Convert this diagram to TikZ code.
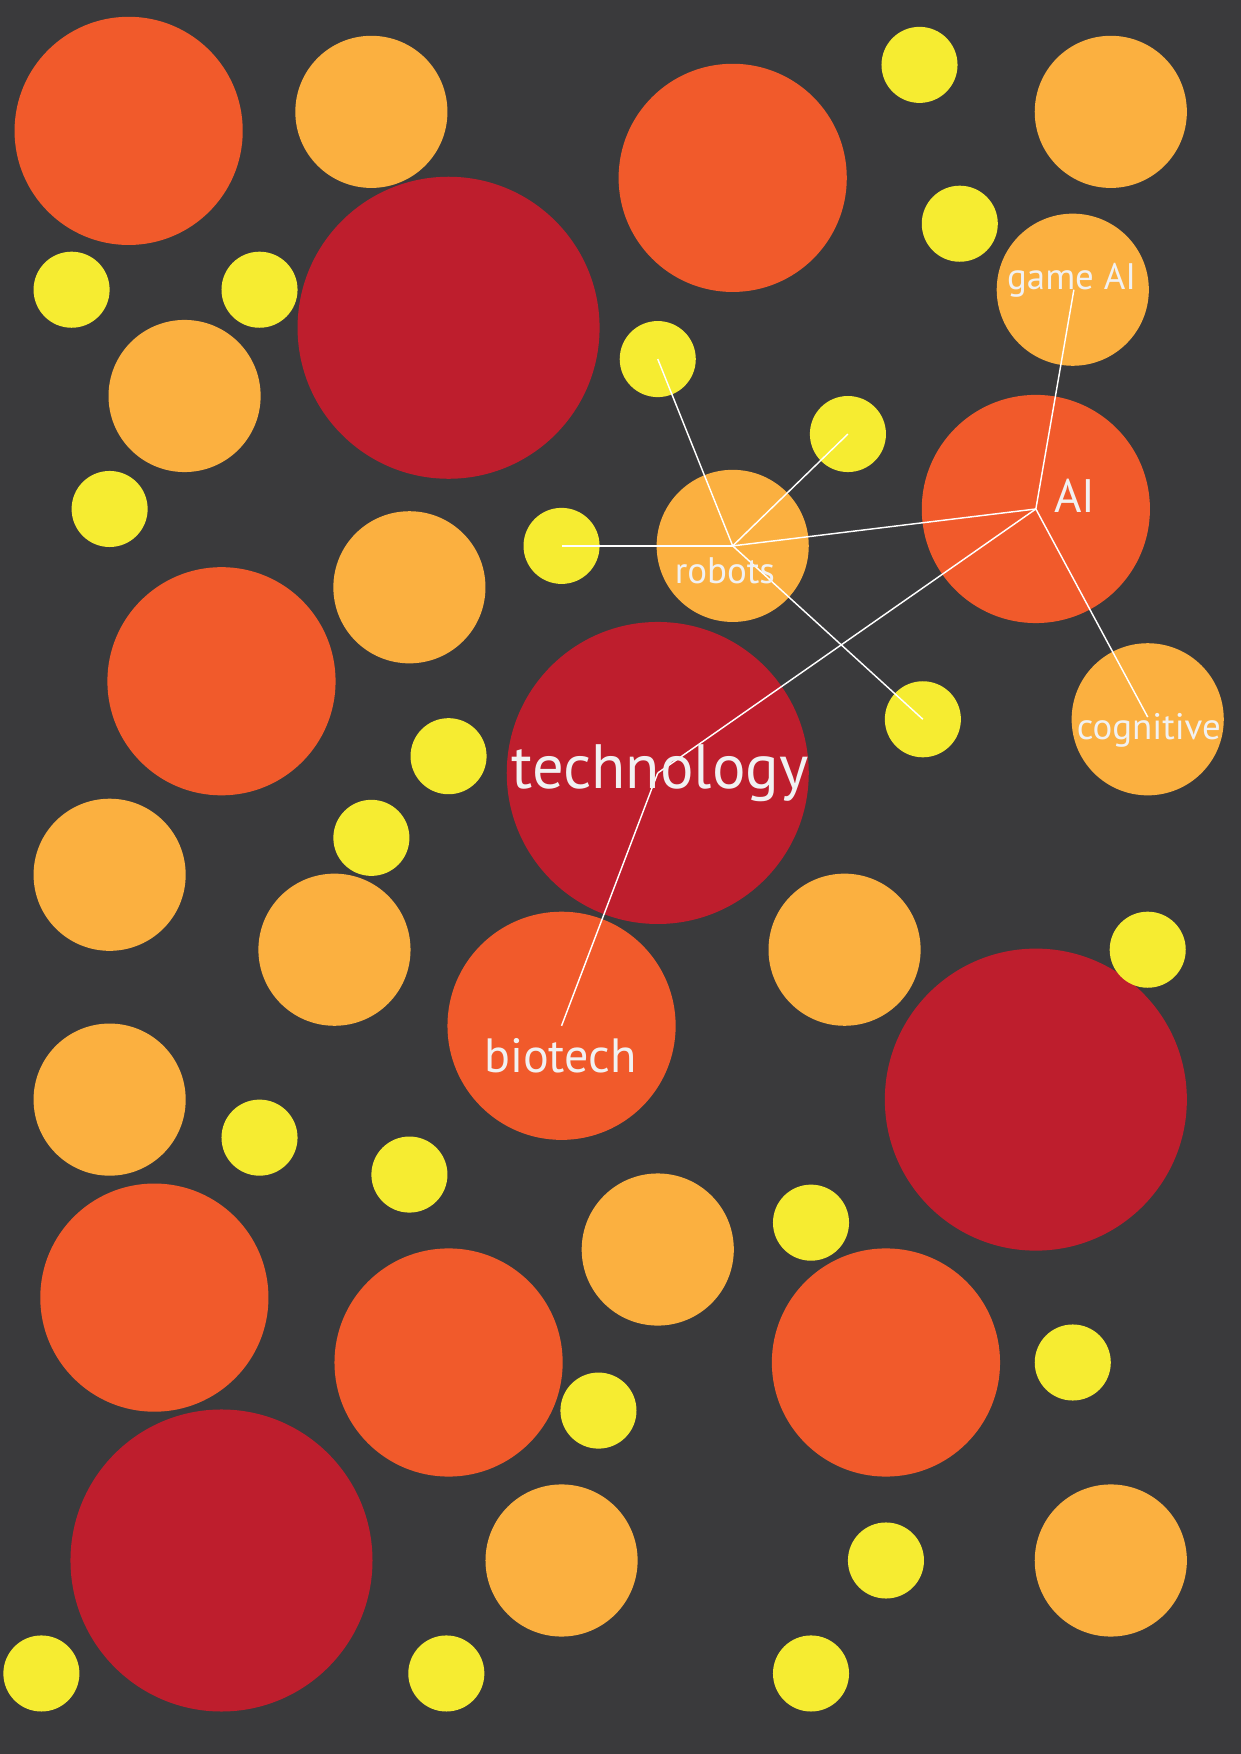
\documentclass[tikz,border=0pt]{standalone}
\usepackage{fontspec}
\setmainfont{PT Sans}
\definecolor{bg}{HTML}{3A3A3C}
\definecolor{cred}{HTML}{BE1E2D}
\definecolor{corg}{HTML}{F15A2B}
\definecolor{clor}{HTML}{FBB040}
\definecolor{cyel}{HTML}{F6EC31}
\definecolor{ctxt}{HTML}{F1F1F2}
\begin{document}
\begin{tikzpicture}[x=1pt,y=-1pt,
  dot/.style={circle,inner sep=0pt,draw=none},
  bigc/.style={dot,fill=cred,minimum size=270pt},
  midc/.style={dot,fill=corg,minimum size=204pt},
  smc/.style={dot,fill=clor,minimum size=136pt},
  tinyc/.style={dot,fill=cyel,minimum size=68pt},
  link/.style={draw=white,line width=1.3pt},
  lbl/.style={text=ctxt,anchor=base,inner sep=0pt}]
\fill[bg] (0,0) rectangle (1109,1568);
\useasboundingbox (0,0) rectangle (1109,1568);
% dark red
\node[bigc] (r1) at (401,293) {};
\node[bigc] (tech) at (588,691) {};
\node[bigc] (r3) at (926,983) {};
\node[bigc] (r4) at (198,1395) {};
% orange
\node[midc] (o1) at (115,117) {};
\node[midc] (o2) at (655,159) {};
\node[midc] (ai) at (926,455) {};
\node[midc] (o4) at (198,609) {};
\node[midc] (bio) at (502,917) {};
\node[midc] (o6) at (138,1160) {};
\node[midc] (o7) at (401,1218) {};
\node[midc] (o8) at (792,1218) {};
% light orange
\node[smc] (l1) at (332,100) {};
\node[smc] (l2) at (993,100) {};
\node[smc] (game) at (959,259) {};
\node[smc] (l4) at (165,354) {};
\node[smc] (l5) at (366,525) {};
\node[smc] (rob) at (655,488) {};
\node[smc] (cog) at (1026,643) {};
\node[smc] (l8) at (98,782) {};
\node[smc] (l9) at (299,849) {};
\node[smc] (l10) at (755,849) {};
\node[smc] (l11) at (98,983) {};
\node[smc] (l12) at (588,1117) {};
\node[smc] (l13) at (502,1395) {};
\node[smc] (l14) at (993,1395) {};
% yellow
\node[tinyc] (y1) at (822,58) {};
\node[tinyc] (y2) at (858,200) {};
\node[tinyc] (y3) at (64,259) {};
\node[tinyc] (y4) at (232,259) {};
\node[tinyc] (y5) at (588,321) {};
\node[tinyc] (y6) at (758,388) {};
\node[tinyc] (y7) at (98,455) {};
\node[tinyc] (y8) at (502,488) {};
\node[tinyc] (y9) at (825,643) {};
\node[tinyc] (y10) at (401,676) {};
\node[tinyc] (y11) at (332,749) {};
\node[tinyc] (y12) at (1026,849) {};
\node[tinyc] (y13) at (232,1017) {};
\node[tinyc] (y14) at (366,1050) {};
\node[tinyc] (y15) at (725,1093) {};
\node[tinyc] (y16) at (959,1218) {};
\node[tinyc] (y17) at (535,1261) {};
\node[tinyc] (y18) at (792,1395) {};
\node[tinyc] (y19) at (37,1496) {};
\node[tinyc] (y20) at (399,1496) {};
\node[tinyc] (y21) at (725,1496) {};
% link ends
\coordinate (gameend) at (960,259);
\coordinate (cogend) at (1026,641);
\coordinate (bioend) at (502,917);
% connectors
\draw[link] (ai.center) -- (gameend);
\draw[link] (ai.center) -- (cogend);
\draw[link] (ai.center) -- (rob.center);
\draw[link] (ai.center) -- (tech.center);
\draw[link] (rob.center) -- (y5.center);
\draw[link] (rob.center) -- (y6.center);
\draw[link] (rob.center) -- (y8.center);
\draw[link] (rob.center) -- (y9.center);
\draw[link] (tech.center) -- (bioend);
% labels
\node[lbl,font=\fontsize{56}{56}\selectfont] (ttech) at (590,705) {technology};
\node[lbl,font=\fontsize{43}{43}\selectfont] (tbio) at (501,959) {biotech};
\node[lbl,font=\fontsize{42}{42}\selectfont] (tai) at (961,458) {AI};
\node[lbl,font=\fontsize{33}{33}\selectfont] (trob) at (648,522) {robots};
\node[lbl,font=\fontsize{33}{33}\selectfont] (tgame) at (958,259) {game AI};
\node[lbl,font=\fontsize{33}{33}\selectfont] (tcog) at (1027,661) {cognitive};
\end{tikzpicture}
\end{document}
